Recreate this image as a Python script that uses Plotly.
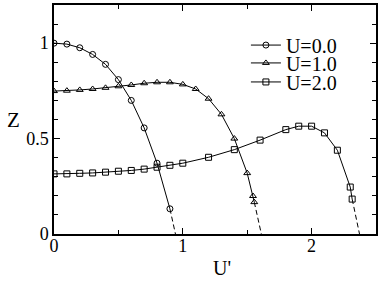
import plotly.graph_objects as go

# U=0.0 (circles)
x_u0 = [0.0, 0.1, 0.2, 0.3, 0.4, 0.5, 0.6, 0.7, 0.8, 0.9]
z_u0 = [1.0, 0.995, 0.976, 0.941, 0.889, 0.809, 0.70, 0.556, 0.371, 0.132]
x_u0_ext = [0.9, 0.943]
z_u0_ext = [0.132, 0.0]

# U=1.0 (triangles)
x_u1 = [0.0, 0.1, 0.2, 0.3, 0.4, 0.5, 0.6, 0.7, 0.8, 0.9, 1.0, 1.1, 1.2, 1.3, 1.4, 1.5, 1.545, 1.555]
z_u1 = [0.749, 0.751, 0.755, 0.760, 0.766, 0.774, 0.781, 0.790, 0.795, 0.795, 0.784, 0.760, 0.709, 0.627, 0.50, 0.319, 0.199, 0.167]
x_u1_ext = [1.555, 1.61]
z_u1_ext = [0.167, 0.0]

# U=2.0 (squares)
x_u2 = [0.0, 0.1, 0.2, 0.3, 0.4, 0.5, 0.6, 0.7, 0.8, 0.9, 1.0, 1.2, 1.4, 1.6, 1.8, 1.9, 2.0, 2.1, 2.2, 2.3, 2.315]
z_u2 = [0.315, 0.315, 0.318, 0.320, 0.324, 0.329, 0.333, 0.340, 0.350, 0.360, 0.371, 0.402, 0.442, 0.492, 0.547, 0.565, 0.565, 0.530, 0.439, 0.246, 0.183]
x_u2_ext = [2.315, 2.372]
z_u2_ext = [0.183, 0.0]

labels = ["U=0.0", "U=1.0", "U=2.0"]
symbols = ["circle-open", "triangle-up-open", "square-open"]
legend_ids = ["legend", "legend2", "legend3"]
legend_y = [0.825, 0.747, 0.664]

FONT = "Liberation Serif, Times New Roman, serif"

fig = go.Figure()
series = [(x_u0, z_u0, x_u0_ext, z_u0_ext), (x_u1, z_u1, x_u1_ext, z_u1_ext), (x_u2, z_u2, x_u2_ext, z_u2_ext)]
for (xs, zs, xe, ze), lab, sym, lg in zip(series, labels, symbols, legend_ids):
    fig.add_trace(go.Scatter(x=xs, y=zs, mode="lines+markers", name=lab, legend=lg,
                             line=dict(color="black", width=1),
                             marker=dict(symbol=sym, size=6, color="black", line=dict(width=1, color="black"))))
    fig.add_trace(go.Scatter(x=xe, y=ze, mode="lines", showlegend=False,
                             line=dict(color="black", width=1, dash="5px,3px")))

leg_common = dict(x=0.596, xanchor="left", yanchor="middle", bgcolor="rgba(0,0,0,0)",
                  font=dict(size=20, family=FONT), borderwidth=0)
fig.update_layout(
    width=382, height=284,
    margin=dict(l=54, r=6, t=5, b=50, autoexpand=False),
    plot_bgcolor="white", paper_bgcolor="white",
    font=dict(family=FONT, size=18, color="black"),
    legend=dict(y=legend_y[0], **leg_common),
    legend2=dict(y=legend_y[1], **leg_common),
    legend3=dict(y=legend_y[2], **leg_common),
    xaxis=dict(range=[0, 2.5], showgrid=False, zeroline=False, showline=True, linecolor="black",
               linewidth=1.5, mirror="allticks", ticks="inside", ticklen=6, tickcolor="black",
               dtick=1, tick0=0, automargin=False, ticklabelstandoff=-5,
               minor=dict(dtick=0.5, ticks="inside", ticklen=4, tickcolor="black")),
    yaxis=dict(range=[0, 1.2], showgrid=False, zeroline=False, showline=True, linecolor="black",
               linewidth=1.5, mirror="allticks", ticks="inside", ticklen=6, tickcolor="black",
               tickvals=[0, 0.5, 1], ticktext=["0", "0.5", "1"], automargin=False,
               minor=dict(dtick=0.1, ticks="inside", ticklen=4, tickcolor="black")),
    annotations=[
        dict(text="Z", xref="paper", yref="paper", x=(13 - 54) / 322, y=(234 - 120) / 229,
             showarrow=False, xanchor="center", yanchor="middle", font=dict(size=21, family=FONT)),
        dict(text="U'", xref="paper", yref="paper", x=(222 - 54) / 322, y=(234 - 268) / 229,
             showarrow=False, xanchor="center", yanchor="middle", font=dict(size=20, family=FONT)),
    ],
)

fig.write_html("out.html", config={"displayModeBar": False},
               post_script="document.body.style.margin='0';")
